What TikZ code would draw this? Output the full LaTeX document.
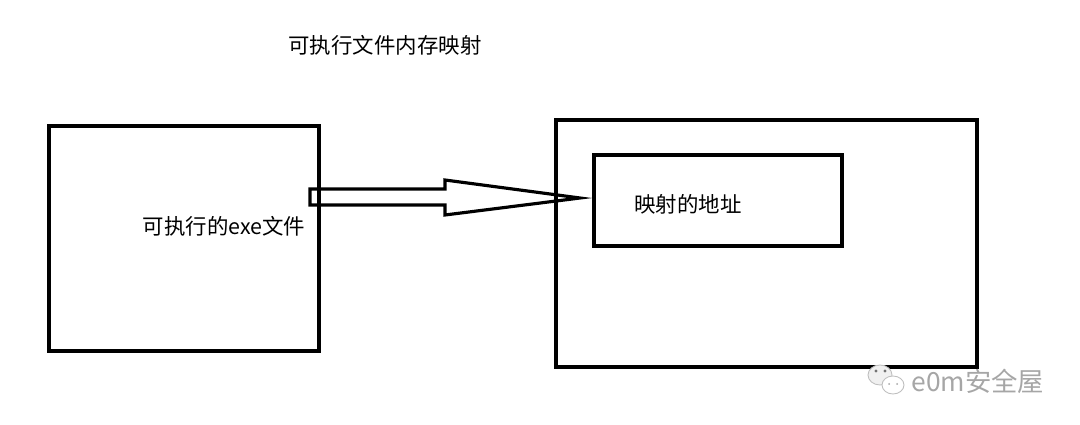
\documentclass[tikz,border=0pt]{standalone}
\usepackage{fontspec}
\newfontfamily\cjk{Noto Sans CJK SC}
\usetikzlibrary{positioning}

\begin{document}
\begin{tikzpicture}[x=0.02cm, y=-0.02cm, font=\cjk\fontsize{12.2pt}{14pt}\selectfont,
  box/.style={draw, line width=2.2pt, inner sep=0pt},
  blockarrow/.style={draw, line width=1.8pt, line join=miter},
  wmark/.style={text=black!35, font=\cjk\fontsize{15pt}{17pt}\selectfont}]
  \useasboundingbox (0,0) rectangle (1080,425);
  % title
  \node (title) at (385,45) {可执行文件内存映射};
  % left box: executable
  \node[box, minimum width=270*0.02cm, minimum height=225*0.02cm] (exe) at (184,238.5) {};
  \node (exelabel) at (224,226) {可执行的exe文件};
  % right box: memory
  \node[box, minimum width=421*0.02cm, minimum height=247*0.02cm] (mem) at (766.5,243.5) {};
  \node[box, minimum width=248*0.02cm, minimum height=91*0.02cm] (addr) at (718,200.5) {};
  \node (addrlabel) at (688,204) {映射的地址};
  % mapping arrow
  \draw[blockarrow] (310,189) -- (445,189) -- (445,180) -- (580,198) -- (445,215)
    -- (445,205) -- (310,205) -- cycle;
  % watermark
  \filldraw[fill=black!6, draw=black!25, line width=0.5pt] (880,375) ellipse (12 and 10);
  \filldraw[fill=white, draw=black!25, line width=0.5pt] (893,385) ellipse (11 and 9);
  \fill[black!55] (876,371) circle (1.6) (885,371) circle (1.6);
  \fill[black!35] (889,384) circle (1) (897,384) circle (1);
  \node[wmark] (wm) at (978,381) {e0m安全屋};
\end{tikzpicture}
\end{document}
